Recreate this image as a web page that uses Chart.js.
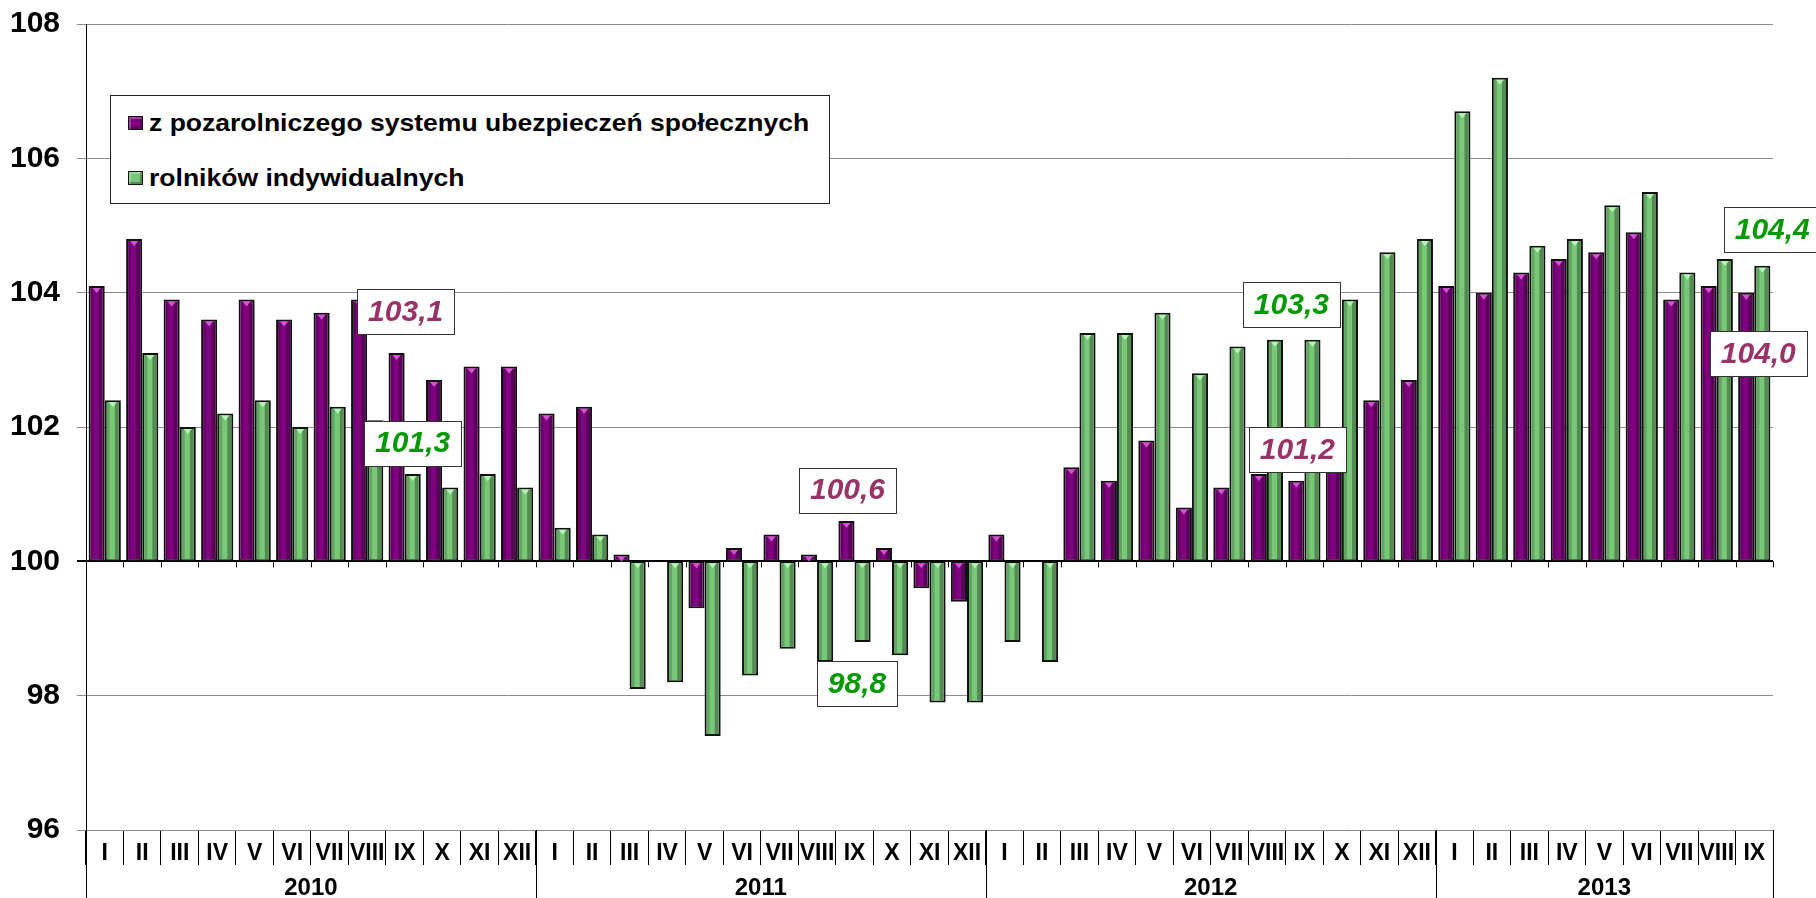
<!DOCTYPE html>
<html><head><meta charset="utf-8">
<script src="https://cdn.jsdelivr.net/npm/chart.js@4.4.1/dist/chart.umd.min.js"></script>
<style>
html,body{margin:0;padding:0;background:#fff;}
#wrap{position:relative;width:1816px;height:898px;overflow:hidden;background:#fff;}
#legend{position:absolute;left:110px;top:95px;width:720px;height:109px;border:1px solid #222;background:#fff;box-sizing:border-box;font:bold 24px "Liberation Sans",Arial,sans-serif;color:#000;}
.sw{position:absolute;left:17px;width:13px;height:12px;border:1px solid #111;box-shadow:inset 2px 2px 0 rgba(255,255,255,0.25), inset -2px -2px 0 rgba(0,0,0,0.3);}
.tx{position:absolute;left:38px;line-height:24px;white-space:nowrap;transform:scaleX(1.105);transform-origin:0 50%;}
</style></head>
<body><div id="wrap"><canvas id="c" width="1816" height="898"></canvas><div id="legend"></div></div>
<script>
// ---- data ----
const romanMonths = ['I','II','III','IV','V','VI','VII','VIII','IX','X','XI','XII'];
const years = ['2010','2011','2012','2013'];
const monthsPerYear = [12,12,12,9];
const seriesNames = ['z pozarolniczego systemu ubezpieczeń społecznych','rolników indywidualnych'];
const pozarolniczy = [
  104.1,104.8,103.9,103.6,103.9,103.6,103.7,103.9,103.1,102.7,102.9,102.9,
  102.2,102.3,100.1,100.0,99.3,100.2,100.4,100.1,100.6,100.2,99.6,99.4,
  100.4,100.0,101.4,101.2,101.8,100.8,101.1,101.3,101.2,101.6,102.4,102.7,
  104.1,104.0,104.3,104.5,104.6,104.9,103.9,104.1,104.0
];
const rolnicy = [
  102.4,103.1,102.0,102.2,102.4,102.0,102.3,102.1,101.3,101.1,101.3,101.1,
  100.5,100.4,98.1,98.2,97.4,98.3,98.7,98.5,98.8,98.6,97.9,97.9,
  98.8,98.5,103.4,103.4,103.7,102.8,103.2,103.3,103.3,103.9,104.6,104.8,
  106.7,107.2,104.7,104.8,105.3,105.5,104.3,104.5,104.4
];
const yTicks = [96,98,100,102,104,106,108];
const baseline = 100;
// labelled points: series index, month index
const callouts = [
  {series:0, month:8}, {series:1, month:8},
  {series:0, month:20}, {series:1, month:20},
  {series:1, month:32}, {series:0, month:32},
  {series:1, month:44}, {series:0, month:44}
];
// ---- styling / placement ----
const calloutPlacement = [
  {dx:1, y:103.72}, {dx:8, y:101.76},
  {dx:-7, y:101.06}, {dx:2.5, y:98.18},
  {dx:-13, y:103.82}, {dx:-7, y:101.66},
  {dx:18, y:104.94}, {dx:4, y:103.09}
];
const seriesColors = ['#800080','#78C878'];
const calloutColors = ['#993366','#009900'];
const FONT = '"Liberation Sans", Arial, sans-serif';

const categories = [];
years.forEach((y,i)=>{ for(let m=0;m<monthsPerYear[i];m++) categories.push(romanMonths[m]); });
const seriesValues = [pozarolniczy, rolnicy];

// legend (HTML)
const lg = document.getElementById('legend');
seriesNames.forEach((name,i)=>{
  const sw = document.createElement('span'); sw.className='sw';
  sw.style.background = seriesColors[i]; sw.style.top = (i===0 ? 20 : 75)+'px';
  const tx = document.createElement('span'); tx.className='tx';
  tx.style.top = (i===0 ? 14.7 : 69.7)+'px'; tx.textContent = name;
  lg.appendChild(sw); lg.appendChild(tx);
});

const bevelPlugin = {
  id:'bevel',
  afterDatasetsDraw(chart){
    const ctx = chart.ctx;
    chart.data.datasets.forEach((ds,di)=>{
      chart.getDatasetMeta(di).data.forEach(el=>{
        const p = el.getProps(['x','y','base','width'], true);
        const top = Math.min(p.y,p.base), bot = Math.max(p.y,p.base), h = bot-top;
        if (h < 5) return;
        const l = p.x - p.width/2 + 2, r = p.x + p.width/2 - 2;
        ctx.save();
        ctx.fillStyle = 'rgba(0,0,0,0.18)';
        ctx.fillRect(l, top+2, 3, h-4);
        ctx.fillStyle = 'rgba(0,0,0,0.30)';
        ctx.fillRect(r-4, top+2, 4, h-4);
        ctx.fillStyle = di===0 ? 'rgba(215,90,215,0.95)' : 'rgba(185,245,185,0.95)';
        ctx.beginPath();
        ctx.moveTo(p.x-4, top+2); ctx.lineTo(p.x+4, top+2); ctx.lineTo(p.x, top+7);
        ctx.closePath(); ctx.fill();
        ctx.restore();
      });
    });
  }
};

const axisDecor = {
  id:'axisDecor',
  afterDraw(chart){
    const ctx = chart.ctx, xs = chart.scales.x, ys = chart.scales.y, ca = chart.chartArea;
    const cw = xs.getPixelForValue(1) - xs.getPixelForValue(0);
    const edge = k => xs.getPixelForValue(k) - cw/2;
    const y100 = ys.getPixelForValue(baseline);
    ctx.save();
    ctx.strokeStyle = '#000'; ctx.lineWidth = 1;
    for (let k=0;k<=categories.length;k++){
      const x = Math.round(edge(k))+0.5;
      ctx.beginPath(); ctx.moveTo(x, y100); ctx.lineTo(x, y100+6); ctx.stroke();
    }
    let start = 0;
    const bottom = chart.height;
    ctx.font = 'bold 24px ' + FONT;
    ctx.fillStyle = '#000'; ctx.textAlign='center'; ctx.textBaseline='middle';
    const drawSep = k => { const x = Math.round(edge(k))+0.5; ctx.beginPath(); ctx.moveTo(x, ca.bottom); ctx.lineTo(x, bottom); ctx.stroke(); };
    drawSep(0);
    years.forEach((yr,i)=>{
      const end = start + monthsPerYear[i];
      drawSep(end);
      ctx.fillText(yr, (edge(start)+edge(end))/2, ca.bottom + 58);
      start = end;
    });
    callouts.forEach((c,i)=>{
      const pl = calloutPlacement[i];
      const v = seriesValues[c.series][c.month];
      const text = v.toFixed(1).replace('.',',');
      const cx = xs.getPixelForValue(c.month) + pl.dx;
      const cy = ys.getPixelForValue(pl.y);
      ctx.font = 'italic bold 30px ' + FONT;
      const w = Math.round(ctx.measureText(text).width + 22), h = 45;
      const bx = Math.round(cx - w/2)+0.5, by = Math.round(cy - h/2)+0.5;
      ctx.fillStyle = '#fff'; ctx.fillRect(bx, by, w, h);
      ctx.strokeStyle = '#333'; ctx.lineWidth = 1; ctx.strokeRect(bx, by, w, h);
      ctx.fillStyle = calloutColors[c.series];
      ctx.textAlign = 'center'; ctx.textBaseline = 'middle';
      ctx.fillText(text, cx, cy + 1);
    });
    ctx.restore();
  }
};

new Chart(document.getElementById('c'), {
  type:'bar',
  data:{
    labels: categories,
    datasets: seriesValues.map((vals,i)=>({
      label: seriesNames[i],
      data: vals.map(v=>[baseline, v]),
      backgroundColor: seriesColors[i],
      borderColor: '#111',
      borderWidth: 2,
      borderSkipped: false,
      categoryPercentage: 0.86,
      barPercentage: 1.0
    }))
  },
  options:{
    responsive:false, animation:false,
    layout:{ padding:{ top:24, right:43, left:0, bottom:0 } },
    plugins:{ legend:{display:false}, tooltip:{enabled:false} },
    scales:{
      x:{
        offset:true,
        grid:{ display:true, drawOnChartArea:false, drawTicks:true, tickLength:35, color:'#000', lineWidth:1, offset:true },
        border:{ display:false },
        ticks:{ autoSkip:false, maxRotation:0, minRotation:0, padding:-25, color:'#000', font:{ family:FONT, size:23, weight:'bold' } },
        afterFit(s){ s.height = 68; s.paddingLeft = 0; s.paddingRight = 0; }
      },
      y:{
        min:96, max:108,
        afterBuildTicks(s){ s.ticks = yTicks.map(v=>({value:v})); },
        grid:{
          color: c => (c.tick && c.tick.value===baseline) ? '#000' : '#8c8c8c',
          lineWidth: c => (c.tick && c.tick.value===baseline) ? 2 : 1,
          tickLength:9, drawTicks:true
        },
        border:{ display:true, color:'#000', width:1 },
        ticks:{ padding:17, color:'#000', font:{ family:FONT, size:30, weight:'bold' } },
        afterFit(s){ s.width = 86; s.paddingTop = 0; s.paddingBottom = 0; }
      }
    }
  },
  plugins:[bevelPlugin, axisDecor]
});
</script>
</body></html>
